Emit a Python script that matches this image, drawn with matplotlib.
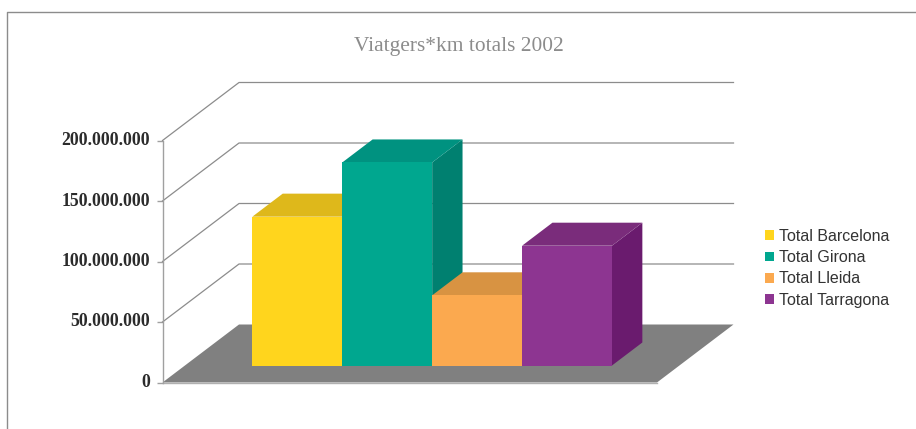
import matplotlib
matplotlib.use("Agg")
import matplotlib.pyplot as plt
from matplotlib.lines import Line2D
from matplotlib.ticker import FuncFormatter
from matplotlib.transforms import ScaledTranslation

title = "Viatgers*km totals 2002"
series = ["Total Barcelona", "Total Girona", "Total Lleida", "Total Tarragona"]
values = [123000000, 167800000, 58000000, 99000000]
yticks = [0, 50000000, 100000000, 150000000, 200000000]
front_colors = ["#FFD51D", "#00A78F", "#FBA94F", "#8D3591"]
top_colors = ["#DEB81B", "#009280", "#D89342", "#7A2C7B"]
side_colors = ["#C9A618", "#008070", "#C98539", "#6A1B6E"]

W, H = 916, 429
fig = plt.figure(figsize=(W / 100, H / 100), dpi=100)
# front plane of the oblique box
ax = fig.add_axes([162.5 / W, 1 - 382.5 / H, 494.5 / W, 242 / H])
XMIN, XMAX = -0.75, 4.75
YMAX = 200000000
ax.set_xlim(XMIN, XMAX)
ax.set_ylim(0, YMAX)
ax.patch.set_alpha(0)

# depth of the whole box, in data units
DX = 76.5 / (494.5 / (XMAX - XMIN))
DY = 58 / 242 * YMAX
BAR_D0, BAR_D1 = 0.293, 0.69


def proj(x, v, d):
    return x + d * DX, v + d * DY


def face(pts, color, z):
    xs, ys = zip(*[proj(*p) for p in pts])
    ax.fill(xs, ys, color=color, lw=0, zorder=z, clip_on=False)


# floor
face([(XMIN, 0, 0), (XMAX, 0, 0), (XMAX, 0, 1), (XMIN, 0, 1)], "#808080", 1)
ax.plot([XMIN, XMAX], [0, 0], color="#b0b0b0", lw=1, zorder=1.5, clip_on=False)

# gridlines on side and back walls
for t in yticks[1:]:
    xs, ys = zip(proj(XMIN, t, 0), proj(XMIN, t, 1), proj(XMAX, t, 1))
    ax.plot(xs, ys, color="#8c8c8c", lw=0.9, zorder=2, clip_on=False)

# bars, left to right
handles = []
for i, (v, fc, tc, sc) in enumerate(zip(values, front_colors, top_colors, side_colors)):
    z = 3 + i
    face([(i + 1, 0, BAR_D0), (i + 1, 0, BAR_D1), (i + 1, v, BAR_D1), (i + 1, v, BAR_D0)], sc, z)
    face([(i, v, BAR_D0), (i + 1, v, BAR_D0), (i + 1, v, BAR_D1), (i, v, BAR_D1)], tc, z)
    x0, y0 = proj(i, 0, BAR_D0)
    b = ax.bar(x0, v, width=1, bottom=y0, align="edge", color=fc, lw=0, zorder=z + 0.5, clip_on=False)
    handles.append(b[0])

# axes
for s in ("top", "right", "bottom"):
    ax.spines[s].set_visible(False)
ax.spines["left"].set_color("#a0a0a0")
ax.spines["left"].set_linewidth(1)
ax.set_xticks([])
ax.set_yticks(yticks)
ax.yaxis.set_major_formatter(FuncFormatter(lambda v, p: f"{int(v):,}".replace(",", ".")))
ax.tick_params(axis="y", length=4, width=1, color="#a0a0a0", pad=5, labelcolor="#2b2b2b")
up = ScaledTranslation(0, 2 / 72 * 0.72, fig.dpi_scale_trans)
for lab in ax.get_yticklabels():
    lab.set_fontfamily("Liberation Serif")
    lab.set_fontweight("bold")
    lab.set_fontsize(12.8)
    lab.set_transform(lab.get_transform() + up)

fig.text(459 / W, 1 - 46 / H, title, ha="center", va="center", family="Liberation Serif",
         fontsize=15.4, color="#8c8c8c")

fig.legend(handles, series, loc="upper left", bbox_to_anchor=(765 / W, 1 - 229 / H),
           frameon=False, prop={"family": "Liberation Sans", "size": 11.5},
           handlelength=0.56, handleheight=0.56, handletextpad=0.31, labelspacing=0.39,
           borderpad=0, borderaxespad=0, labelcolor="#333333")

# chart frame
fig.add_artist(Line2D([7.0 / W, 7.0 / W, 1], [0, 1 - 12.0 / H, 1 - 12.0 / H],
                      color="#8c8c8c", lw=1))
fig.savefig("out.png", dpi=100)
